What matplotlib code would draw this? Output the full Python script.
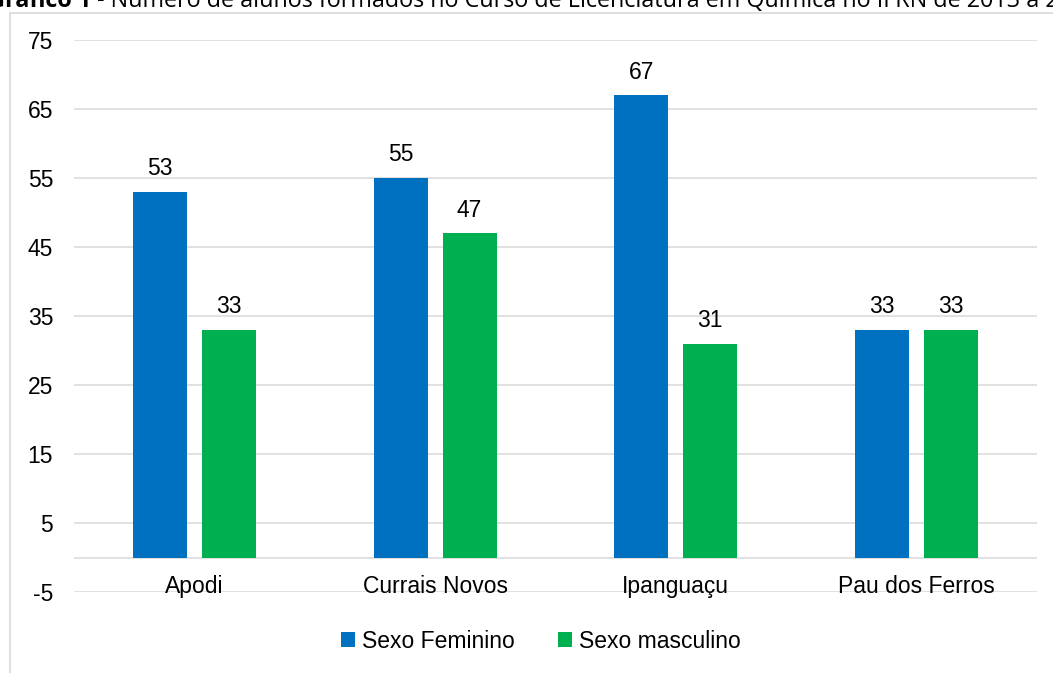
import matplotlib
matplotlib.use("Agg")
import matplotlib.pyplot as plt
from matplotlib.patches import Rectangle, Patch
from matplotlib.text import Annotation

categories = ["Apodi", "Currais Novos", "Ipanguaçu", "Pau dos Ferros"]
feminino = [53, 55, 67, 33]
masculino = [33, 47, 31, 33]
series_names = ["Sexo Feminino", "Sexo masculino"]
yticks = [-5, 5, 15, 25, 35, 45, 55, 65, 75]
title_bold = "Gráfico 1"
title_rest = " - Número de alunos formados no Curso de Licenciatura em Química no IFRN de 2013 a 2017"

plt.rcParams['font.family'] = ['Liberation Sans', 'DejaVu Sans']
BLUE = "#0070C0"
GREEN = "#00B050"
GRID = "#D9D9D9"
FS = 16.5

W, H = 1053, 673
fig = plt.figure(figsize=(W / 100, H / 100), dpi=100)

# chart border (extends past right/bottom edge)
fig.patches.append(Rectangle((10 / W, -0.1), 1.2, 1.1 - 13 / H,
                             transform=fig.transFigure, fill=False,
                             edgecolor=GRID, linewidth=1.2))

# title, partially cut off at the top as in the source image
tfont = ['Open Sans', 'DejaVu Sans']
TFS = 16.8
t1 = fig.text(-12 / W, 1 - 7 / H, title_bold, fontsize=TFS, fontweight='bold',
              family=tfont, va='baseline', ha='left')
fig.add_artist(Annotation(title_rest, xy=(1, 0), xycoords=t1, fontsize=TFS,
                          family=tfont, va='bottom', ha='left',
                          annotation_clip=False))

ax = fig.add_axes([74 / W, 1 - 592 / H, 963 / W, 552 / H])
x = range(len(categories))
bw = 0.224
off = 0.143
b1 = ax.bar([i - off for i in x], feminino, width=bw, color=BLUE, zorder=3)
b2 = ax.bar([i + off for i in x], masculino, width=bw, color=GREEN, zorder=3)
for bars, vals in ((b1, feminino), (b2, masculino)):
    for r, v in zip(bars, vals):
        ax.annotate(str(v), xy=(r.get_x() + r.get_width() / 2, v),
                    xytext=(0, 12), textcoords='offset points',
                    ha='center', va='baseline', fontsize=FS, color='black')

ax.set_xlim(-0.5, 3.5)
ax.set_ylim(-5, 75)
ax.set_yticks(yticks)
ax.set_yticklabels([str(t) for t in yticks], fontsize=FS)
ax.tick_params(axis='y', length=0, pad=15)
ax.set_xticks([])
for y in yticks + [0]:
    ax.axhline(y, color=GRID, linewidth=1.1, zorder=1)
for s in ax.spines.values():
    s.set_visible(False)
for i, c in enumerate(categories):
    ax.text(i, -4.25, c, ha='center', va='center', fontsize=FS, zorder=4)

handles = [Patch(facecolor=BLUE), Patch(facecolor=GREEN)]
fig.legend(handles, series_names, loc='center', bbox_to_anchor=(541 / W, 1 - 641 / H),
           ncol=2, frameon=False, fontsize=FS, handlelength=0.6, handleheight=0.6,
           handletextpad=0.3, columnspacing=1.9, borderpad=0)

fig.savefig("out.png", dpi=100)
